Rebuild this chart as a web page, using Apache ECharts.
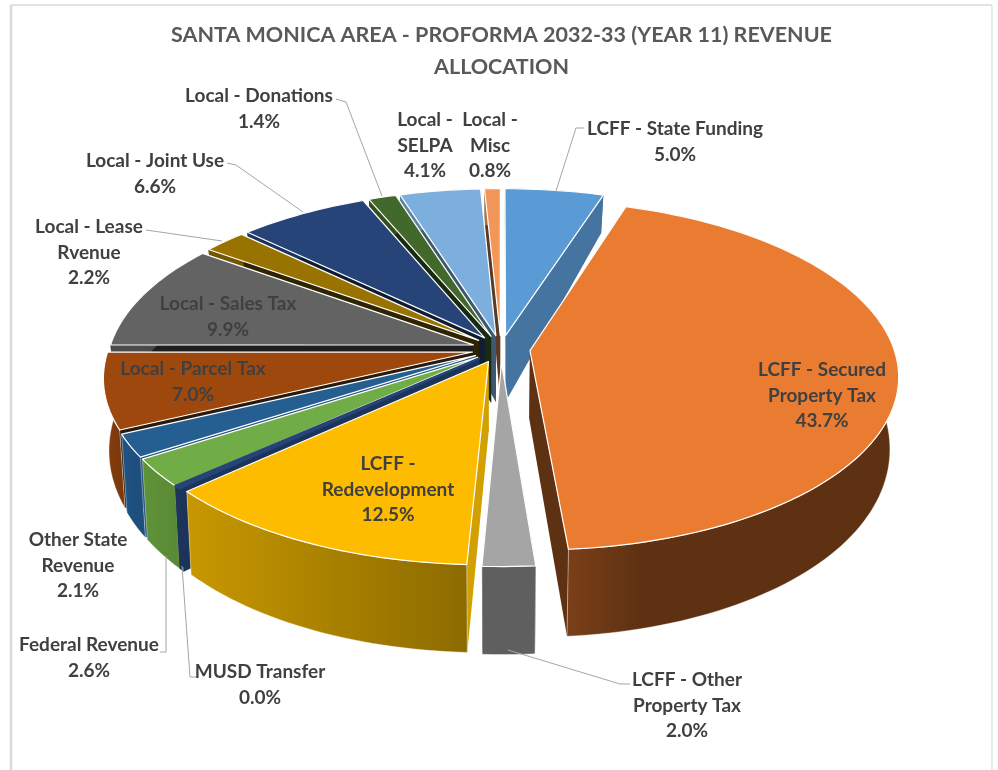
<!DOCTYPE html>
<html><head><meta charset="utf-8">
<style>html,body{margin:0;padding:0;background:#fff}#c{width:998px;height:770px}</style>
<script src="https://cdn.jsdelivr.net/npm/echarts@6/dist/echarts.min.js"></script>
</head><body><div id="c"></div>
<script>
const categories=['LCFF - State Funding','LCFF - Secured Property Tax','LCFF - Other Property Tax','LCFF - Redevelopment','MUSD Transfer','Federal Revenue','Other State Revenue','Local - Parcel Tax','Local - Sales Tax','Local - Lease Rvenue','Local - Joint Use','Local - Donations','Local - SELPA','Local - Misc'];
const shares=[5.0,43.7,2.0,12.5,0.04,2.6,2.1,7.0,9.9,2.2,6.6,1.4,4.1,0.8];
const wrappedNames=[['LCFF - State Funding'],['LCFF - Secured','Property Tax'],['LCFF - Other','Property Tax'],['LCFF -','Redevelopment'],['MUSD Transfer'],['Federal Revenue'],['Other State','Revenue'],['Local - Parcel Tax'],['Local - Sales Tax'],['Local - Lease','Rvenue'],['Local - Joint Use'],['Local - Donations'],['Local -','SELPA'],['Local -','Misc']];
const topColors=['#5B9BD5','#E97C30','#A5A5A5','#FDBC00','#264478','#70AD47','#255E91','#9E480E','#636363','#997300','#264478','#43682B','#7CAFDD','#F1975A'];
const wallFrom=['#44749F','#7A3F18','#5F5F5F','#C89800','#1C335A','#5F9338','#1F5485','#8A3F0C','#4A4A4A','#735600','#1C335A','#32501F','#5D83A6','#B57143'];
const wallTo=['#44749F','#5E3112','#5F5F5F','#8C6B00','#1C335A','#5A8A35','#1D4E7C','#7A380B','#4A4A4A','#735600','#1C335A','#32501F','#5D83A6','#B57143'];
const wallKnee=[1,0.22,1,1,1,1,1,1,1,1,1,1,1,1];
const cutColors=['#44749F','#5E3112','#5F5F5F','#D2A000','#1C335A','#4A7030','#1F4F7C','#2A1A0C','#1E1E1E','#2E2400','#101C30','#1A2A10','#3E5870','#5A3A24'];
// label centres and leader lines (layout only)
const labelPos=[[675,129],[822,370],[687,680],[388,464],[260,672],[89,645],[78,540],[193,369],[228,304],[89,227],[155,161],[259,96],[425,120],[490,120]];
const leaders=[[[584,128],[576,128],[556,191]],null,[[508,650],[620,684],[630,684]],null,[[182,566],[190,677],[198,677]],[[160,652],[166,652],[166,556]],null,null,null,[[146,230],[222,241]],[[227,163],[236,165],[303,212]],[[336,99],[346,102],[382,196]],null,null];

const CX=501,CY=349,A=364,B=171,P=0.14,EXPLODE=0.08,MIN_SWEEP=1.0;
const total=shares.reduce((a,b)=>a+b,0);
const starts=[];shares.reduce((acc,v,i)=>{starts[i]=acc;return acc+v;},0);
const rad=d=>d*Math.PI/180;
function thick(Y){const u=-Y;return 41+26.2*(u+0.95)-5.23*(u+0.95)*(u-0.5);}
function topPt(X,Y){const d=1+P*Y;return [CX+A*X/d,CY-B*Y/d];}
function botPt(X,Y){const t=topPt(X,Y),dx=t[0]-CX;return [CX+dx*(dx<0?0.986:0.978),t[1]+thick(Y)];}
const midAngle=i=>(starts[i]+shares[i]/2)/total*360;
const ranks=categories.map((_,i)=>i).sort((a,b)=>Math.cos(rad(midAngle(b)))-Math.cos(rad(midAngle(a))));

function renderSlice(params,api){
  const i=params.dataIndex, v=api.value(0);
  let a0=starts[i]/total*360, a1=(starts[i]+v)/total*360;
  if(a1-a0<MIN_SWEEP){const m=(a0+a1)/2;a0=m-MIN_SWEEP/2;a1=m+MIN_SWEEP/2;}
  const m=rad((a0+a1)/2), ox=EXPLODE*Math.sin(m), oy=EXPLODE*Math.cos(m);
  const n=Math.max(2,Math.ceil((a1-a0)/1.5));
  const arcT=[],arcB=[];
  for(let k=0;k<=n;k++){const t=rad(a0+(a1-a0)*k/n),X=Math.sin(t)+ox,Y=Math.cos(t)+oy;arcT.push(topPt(X,Y));arcB.push(botPt(X,Y));}
  const apexT=topPt(ox,oy),apexB=botPt(ox,oy);
  const z=10+ranks.indexOf(i)*3;
  const xs=arcT.map(p=>p[0]);
  const stops=[{offset:0,color:wallFrom[i]},{offset:wallKnee[i],color:wallTo[i]}];
  if(wallKnee[i]<1)stops.push({offset:1,color:wallTo[i]});
  const grad={type:'linear',global:true,x:Math.min(...xs),y:0,x2:Math.max(...xs),y2:0,colorStops:stops};
  const poly=(pts,style,zz)=>({type:'polygon',z2:zz,silent:true,shape:{points:pts},style});
  const cutStart=poly([apexT,apexB,arcB[0],arcT[0]],{fill:cutColors[i]},z);
  const cutEnd=poly([apexT,apexB,arcB[n],arcT[n]],{fill:cutColors[i]},z);
  const wallStyle={fill:grad};
  if(Math.cos(m)<0&&i!==4){wallStyle.stroke='rgba(255,255,255,0.5)';wallStyle.lineWidth=0.8;}
  const wall=poly(arcT.concat(arcB.slice().reverse()),wallStyle,z+1);
  const face=poly([apexT].concat(arcT),{fill:topColors[i],stroke:i===4?topColors[i]:'#FFFFFF',lineWidth:i===4?2:1.2,lineJoin:'round'},z+2);
  return {type:'group',children:[cutStart,cutEnd,wall,face]};
}
function renderNote(params,api){
  const i=params.dataIndex, kids=[];
  const text=wrappedNames[i].concat([shares[i].toFixed(1)+'%']).join('\n');
  kids.push({type:'text',z2:100,silent:true,x:labelPos[i][0],y:labelPos[i][1]-13,style:{text,align:'center',verticalAlign:'top',fill:'#404040',font:'bold 19px Lato',lineHeight:25.7}});
  if(leaders[i])kids.push({type:'polyline',z2:99,silent:true,shape:{points:leaders[i]},style:{fill:'none',stroke:'#A6A6A6',lineWidth:1}});
  return {type:'group',children:kids};
}
const chartData=categories.map((name,i)=>({name,value:[shares[i]]}));
const chart=echarts.init(document.getElementById('c'),null,{renderer:'canvas'});
chart.setOption({
  animation:false,
  backgroundColor:'#FFFFFF',
  title:{text:'SANTA MONICA AREA - PROFORMA 2032-33 (YEAR 11) REVENUE\nALLOCATION',left:496.5,top:14,textAlign:'center',
    textStyle:{color:'#595959',fontFamily:'Lato',fontWeight:'bold',fontSize:21.5,lineHeight:32}},
  graphic:[
    {type:'line',shape:{x1:11,y1:5,x2:992,y2:5},style:{stroke:'#DADADA',lineWidth:1.5},silent:true},
    {type:'line',shape:{x1:11,y1:5,x2:11,y2:770},style:{stroke:'#DADADA',lineWidth:2.5},silent:true},
    {type:'line',shape:{x1:992,y1:5,x2:992,y2:770},style:{stroke:'#E4E4E4',lineWidth:1.5},silent:true}
  ],
  series:[
    {type:'custom',name:'Revenue share',coordinateSystem:'none',renderItem:renderSlice,data:chartData,silent:true},
    {type:'custom',name:'Labels',coordinateSystem:'none',renderItem:renderNote,data:chartData,silent:true,z:5}
  ]
});
</script></body></html>
